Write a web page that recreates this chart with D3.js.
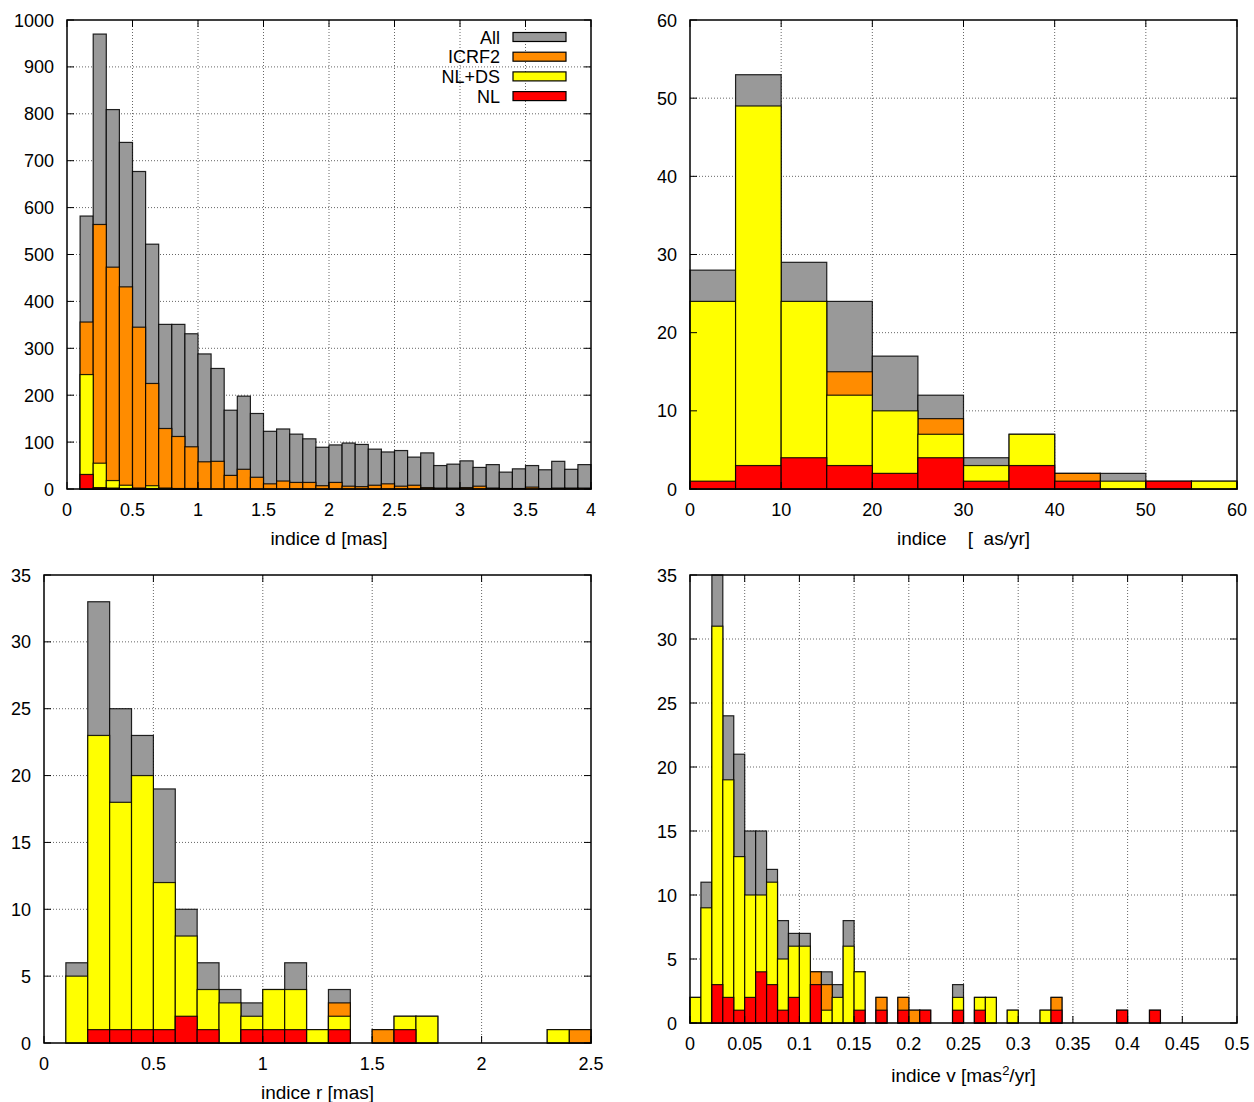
<!DOCTYPE html>
<html>
<head>
<meta charset="utf-8">
<script src="https://cdnjs.cloudflare.com/ajax/libs/d3/7.8.5/d3.min.js"></script>
<style>
  html, body { margin: 0; padding: 0; background: #fff; }
  svg text { font-family: "Liberation Sans", Arial, Helvetica, sans-serif; fill: #000; }
</style>
</head>
<body>
<svg id="chart" width="1254" height="1102"></svg>
<script>
// ---------- shared ----------
const seriesNames = ["All", "ICRF2", "NL+DS", "NL"];
const seriesColors = ["#999999", "#ff8c00", "#ffff00", "#ff0000"];

// ---------- panel 1 : indice d [mas] ----------
const dBins = [0.1,0.2,0.3,0.4,0.5,0.6,0.7,0.8,0.9,1.0,1.1,1.2,1.3,1.4,1.5,1.6,1.7,1.8,1.9,2.0,
               2.1,2.2,2.3,2.4,2.5,2.6,2.7,2.8,2.9,3.0,3.1,3.2,3.3,3.4,3.5,3.6,3.7,3.8,3.9];
const dAll   = [582,970,809,739,677,522,351,351,331,288,257,168,198,161,123,128,117,107,89,94,
                98,95,85,79,82,68,77,50,53,60,46,52,36,43,50,41,59,42,52];
const dICRF2 = [356,564,473,431,345,225,129,112,90,58,59,29,42,25,11,17,14,14,7,14,
                6,5,8,11,6,8,3,2,2,3,6,2,1,1,4,1,2,2,2];
const dNLDS  = [244,55,18,8,2,7,2,1,1,0,0,0,0,0,0,0,0,0,0,0,
                0,0,0,0,0,0,0,0,0,0,0,0,0,0,0,0,0,0,0];
const dNL    = [31,3,2,1,1,1,0,0,0,0,0,0,0,0,0,0,0,0,0,0,
                0,0,0,0,0,0,0,0,0,0,0,0,0,0,0,0,0,0,0];
const dTicksX = [0,0.5,1,1.5,2,2.5,3,3.5,4];
const dTicksXLabels = ["0","0.5","1","1.5","2","2.5","3","3.5","4"];
const dTicksY = [0,100,200,300,400,500,600,700,800,900,1000];

// ---------- panel 2 : indice mu [uas/yr] ----------
const muBins  = [0,5,10,15,20,25,30,35,40,45,50,55];
const muAll   = [28,53,29,24,17,12,4,7,2,2,1,1];
const muICRF2 = [0,0,0,15,0,9,0,0,2,0,0,0];
const muNLDS  = [24,49,24,12,10,7,3,7,0,1,0,1];
const muNL    = [1,3,4,3,2,4,1,3,1,0,1,0];
const muTicksX = [0,10,20,30,40,50,60];
const muTicksXLabels = ["0","10","20","30","40","50","60"];
const muTicksY = [0,10,20,30,40,50,60];

// ---------- panel 3 : indice r [mas] ----------
const rBins  = [0.1,0.2,0.3,0.4,0.5,0.6,0.7,0.8,0.9,1.0,1.1,1.2,1.3,1.4,1.5,1.6,1.7,1.8,1.9,2.0,2.1,2.2,2.3,2.4];
const rAll   = [6,33,25,23,19,10,6,4,3,4,6,1,4,0,1,2,2,0,0,0,0,0,1,1];
const rICRF2 = [0,0,0,0,0,0,0,0,0,0,0,0,3,0,1,0,0,0,0,0,0,0,0,1];
const rNLDS  = [5,23,18,20,12,8,4,3,2,4,4,1,2,0,0,2,2,0,0,0,0,0,1,0];
const rNL    = [0,1,1,1,1,2,1,0,1,1,1,0,1,0,0,1,0,0,0,0,0,0,0,0];
const rTicksX = [0,0.5,1,1.5,2,2.5];
const rTicksXLabels = ["0","0.5","1","1.5","2","2.5"];
const rTicksY = [0,5,10,15,20,25,30,35];

// ---------- panel 4 : indice v [mas^2/yr] ----------
const vBins  = [0.00,0.01,0.02,0.03,0.04,0.05,0.06,0.07,0.08,0.09,0.10,0.11,0.12,0.13,0.14,0.15,0.16,0.17,0.18,0.19,0.20,
                0.21,0.22,0.23,0.24,0.25,0.26,0.27,0.28,0.29,0.30,0.31,0.32,0.33,0.34,0.35,0.36,0.37,0.38,0.39,0.40,0.41,0.42];
const vAll   = [2,11,35,24,21,15,15,12,8,7,7,4,4,3,8,4,0,2,0,2,1,
                1,0,0,3,0,2,2,0,1,0,0,1,2,0,0,0,0,0,1,0,0,1];
const vICRF2 = [0,0,0,0,0,0,0,0,0,0,0,4,3,0,0,0,0,2,0,2,1,
                0,0,0,0,0,0,0,0,0,0,0,0,2,0,0,0,0,0,0,0,0,0];
const vNLDS  = [2,9,31,19,13,10,10,11,5,6,6,0,1,2,6,4,0,0,0,0,0,
                0,0,0,2,0,2,2,0,1,0,0,1,0,0,0,0,0,0,0,0,0,0];
const vNL    = [0,0,3,2,1,2,4,3,1,2,0,3,0,0,0,1,0,1,0,1,0,
                1,0,0,1,0,1,0,0,0,0,0,0,1,0,0,0,0,0,1,0,0,1];
const vTicksX = [0,0.05,0.1,0.15,0.2,0.25,0.3,0.35,0.4,0.45,0.5];
const vTicksXLabels = ["0","0.05","0.1","0.15","0.2","0.25","0.3","0.35","0.4","0.45","0.5"];
const vTicksY = [0,5,10,15,20,25,30,35];

// ---------- drawing ----------
const svg = d3.select("#chart");
svg.append("rect").attr("width",1254).attr("height",1102).attr("fill","#fff");

const TICK_FONT = 18, LABEL_FONT = 19, TICK_LEN = 7;

function panel(cfg) {
  const g = svg.append("g");
  const x = d3.scaleLinear().domain(cfg.xDomain).range([cfg.left, cfg.right]);
  const y = d3.scaleLinear().domain(cfg.yDomain).range([cfg.bottom, cfg.top]);

  // grid (dotted)
  const grid = g.append("g");
  cfg.ticksX.forEach(t => {
    if (t === cfg.xDomain[0] || t === cfg.xDomain[1]) return;
    grid.append("line").attr("x1", x(t)).attr("x2", x(t)).attr("y1", cfg.top).attr("y2", cfg.bottom)
      .attr("stroke", "#666").attr("stroke-width", 1).attr("stroke-dasharray", "1,2");
  });
  cfg.ticksY.forEach(t => {
    if (t === cfg.yDomain[0] || t === cfg.yDomain[1]) return;
    grid.append("line").attr("x1", cfg.left).attr("x2", cfg.right).attr("y1", y(t)).attr("y2", y(t))
      .attr("stroke", "#666").attr("stroke-width", 1).attr("stroke-dasharray", "1,2");
  });

  // bars : each series overlaid from zero, in order All, ICRF2, NL+DS, NL
  cfg.series.forEach((vals, si) => {
    const data = cfg.bins.map((b, i) => ({b, v: vals[i]})).filter(d => d.v > 0);
    g.append("g").selectAll("rect").data(data).join("rect")
      .attr("x", d => x(d.b))
      .attr("width", d => x(d.b + cfg.binWidth) - x(d.b))
      .attr("y", d => y(Math.min(d.v, cfg.yDomain[1])))
      .attr("height", d => y(0) - y(Math.min(d.v, cfg.yDomain[1])))
      .attr("fill", seriesColors[si])
      .attr("stroke", "#000").attr("stroke-opacity", 0.85).attr("stroke-width", 1.2);
  });

  // ticks (mirrored, inward)
  const tk = g.append("g").attr("stroke", "#000").attr("stroke-width", 1);
  cfg.ticksX.forEach(t => {
    tk.append("line").attr("x1", x(t)).attr("x2", x(t)).attr("y1", cfg.bottom).attr("y2", cfg.bottom - TICK_LEN);
    tk.append("line").attr("x1", x(t)).attr("x2", x(t)).attr("y1", cfg.top).attr("y2", cfg.top + TICK_LEN);
  });
  cfg.ticksY.forEach(t => {
    tk.append("line").attr("x1", cfg.left).attr("x2", cfg.left + TICK_LEN).attr("y1", y(t)).attr("y2", y(t));
    tk.append("line").attr("x1", cfg.right).attr("x2", cfg.right - TICK_LEN).attr("y1", y(t)).attr("y2", y(t));
  });

  // frame
  g.append("rect").attr("x", cfg.left).attr("y", cfg.top)
    .attr("width", cfg.right - cfg.left).attr("height", cfg.bottom - cfg.top)
    .attr("fill", "none").attr("stroke", "#000").attr("stroke-width", 1.5);

  // tick labels
  cfg.ticksX.forEach((t, i) => {
    g.append("text").attr("x", x(t)).attr("y", cfg.bottom + 27)
      .attr("text-anchor", "middle").attr("font-size", TICK_FONT).text(cfg.ticksXLabels[i]);
  });
  cfg.ticksY.forEach(t => {
    g.append("text").attr("x", cfg.left - 13).attr("y", y(t) + 6.5)
      .attr("text-anchor", "end").attr("font-size", TICK_FONT).text(String(t));
  });

  // axis title
  const lab = g.append("text").attr("x", (cfg.left + cfg.right) / 2).attr("y", cfg.labelY)
    .attr("text-anchor", "middle").attr("font-size", LABEL_FONT).attr("xml:space", "preserve")
    .style("white-space", "pre");
  cfg.label.forEach(part => {
    const ts = lab.append("tspan").text(part.t);
    if (part.sup) ts.attr("dy", -7).attr("font-size", 13);
    if (part.after) ts.attr("dy", 7);
  });
  return {x, y};
}

panel({
  left: 67, right: 591, top: 20, bottom: 489,
  xDomain: [0, 4], yDomain: [0, 1000], binWidth: 0.1,
  bins: dBins, series: [dAll, dICRF2, dNLDS, dNL],
  ticksX: dTicksX, ticksXLabels: dTicksXLabels, ticksY: dTicksY,
  label: [{t: "indice d [mas]"}], labelY: 545
});

panel({
  left: 690, right: 1237, top: 20, bottom: 489,
  xDomain: [0, 60], yDomain: [0, 60], binWidth: 5,
  bins: muBins, series: [muAll, muICRF2, muNLDS, muNL],
  ticksX: muTicksX, ticksXLabels: muTicksXLabels, ticksY: muTicksY,
  label: [{t: "indice    [  as/yr]"}], labelY: 545
});

panel({
  left: 44, right: 591, top: 575, bottom: 1043,
  xDomain: [0, 2.5], yDomain: [0, 35], binWidth: 0.1,
  bins: rBins, series: [rAll, rICRF2, rNLDS, rNL],
  ticksX: rTicksX, ticksXLabels: rTicksXLabels, ticksY: rTicksY,
  label: [{t: "indice r [mas]"}], labelY: 1099
});

panel({
  left: 690, right: 1237, top: 575, bottom: 1023,
  xDomain: [0, 0.5], yDomain: [0, 35], binWidth: 0.01,
  bins: vBins, series: [vAll, vICRF2, vNLDS, vNL],
  ticksX: vTicksX, ticksXLabels: vTicksXLabels, ticksY: vTicksY,
  label: [{t: "indice v [mas"}, {t: "2", sup: true}, {t: "/yr]", after: true}], labelY: 1082
});

// legend (top-left panel)
const leg = svg.append("g");
seriesNames.forEach((name, i) => {
  const cy = 37 + i * 19.7;
  leg.append("text").attr("x", 500).attr("y", cy + 6.5).attr("text-anchor", "end")
    .attr("font-size", 18).text(name);
  leg.append("rect").attr("x", 513).attr("y", cy - 4.5).attr("width", 53).attr("height", 9)
    .attr("fill", seriesColors[i]).attr("stroke", "#000").attr("stroke-width", 1.2);
});
</script>
</body>
</html>
